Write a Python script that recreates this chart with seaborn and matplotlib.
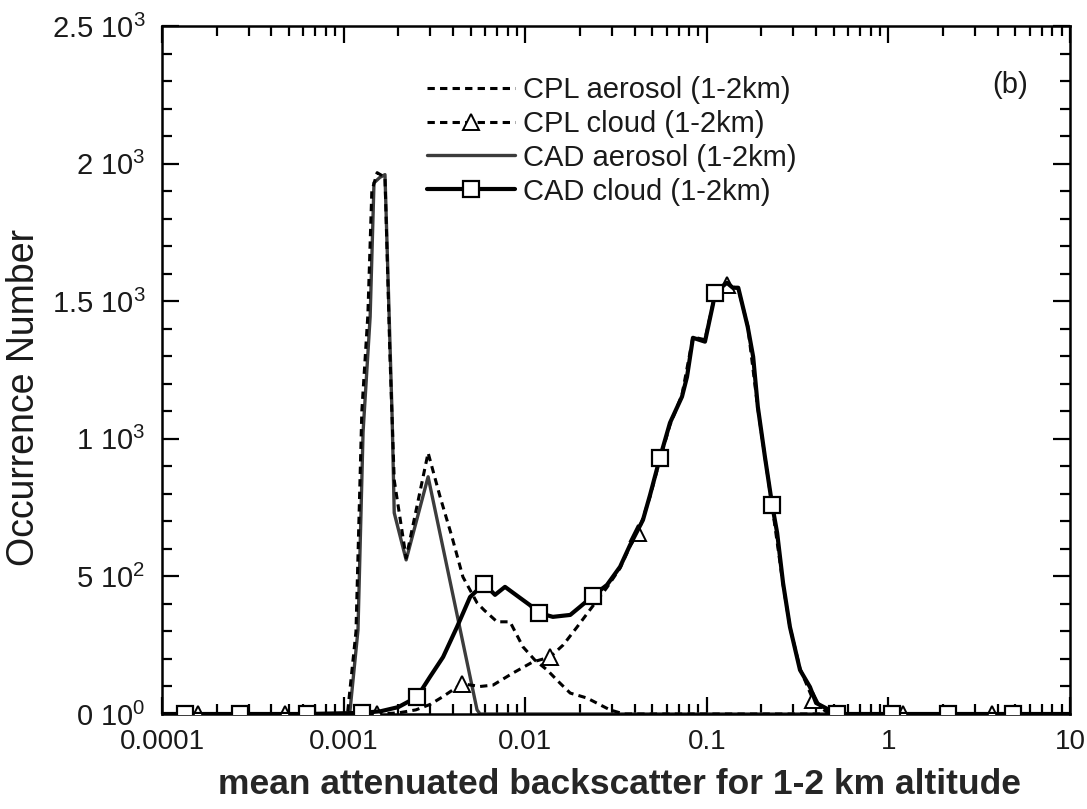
import matplotlib
matplotlib.use("Agg")
import matplotlib.pyplot as plt
import seaborn as sns
import numpy as np
from matplotlib.ticker import FixedLocator, FixedFormatter, LogLocator, NullFormatter, MultipleLocator

# ---- data: occurrence histograms of mean attenuated backscatter (1-2 km) ----
cpl_aer_x = [1.0e-4, 1.05e-3, 1.17e-3, 1.26e-3, 1.36e-3, 1.43e-3, 1.53e-3, 1.69e-3,
             1.80e-3, 1.90e-3, 2.21e-3, 2.92e-3, 3.40e-3, 3.95e-3, 4.54e-3, 5.43e-3,
             5.93e-3, 7.0e-3, 8.25e-3, 9.72e-3, 1.13e-2, 1.32e-2, 1.55e-2, 1.77e-2,
             2.19e-2, 2.93e-2, 3.5e-2, 10.0]
cpl_aer_y = [0, 0, 300, 1100, 1450, 1900, 1967, 1950,
             1300, 850, 567, 949, 789, 644, 498, 404,
             378, 335, 335, 244, 196, 160, 113, 76,
             58, 15, 0, 0]

cpl_cld_x = [1.0e-4, 1.58e-4, 4.76e-4, 1.0e-3, 1.53e-3, 2.0e-3, 2.5e-3, 3.0e-3, 3.5e-3,
             4.49e-3, 5.64e-3, 6.65e-3, 8.57e-3, 1.10e-2, 1.37e-2, 1.62e-2, 1.93e-2,
             2.27e-2, 2.82e-2, 3.33e-2, 3.78e-2, 4.18e-2, 4.87e-2, 5.52e-2, 6.27e-2,
             7.3e-2, 8.39e-2, 9.77e-2, 0.108, 0.129, 0.149, 0.168, 0.191, 0.229,
             0.263, 0.287, 0.326, 0.385, 0.45, 0.521, 1.20, 3.72, 10.0]
cpl_cld_y = [0, 0, 0, 0, 0, 4, 15, 35, 62,
             110, 100, 105, 149, 189, 207, 251, 316,
             378, 460, 530, 610, 658, 790, 925, 1050,
             1160, 1370, 1360, 1490, 1560, 1545, 1410, 1110, 755,
             470, 316, 165, 51, 10, 0, 0, 0, 0]
cpl_cld_marked = [1.58e-4, 4.76e-4, 1.53e-3, 4.49e-3, 1.37e-2, 4.18e-2, 0.129, 0.385, 1.20, 3.72]

cad_aer_x = [1.0e-4, 1.08e-3, 1.20e-3, 1.28e-3, 1.40e-3, 1.47e-3, 1.585e-3, 1.69e-3,
             1.76e-3, 1.85e-3, 1.90e-3, 2.21e-3, 2.92e-3, 5.43e-3, 5.64e-3, 10.0]
cad_aer_y = [0, 0, 305, 1025, 1443, 1930, 1950, 1960,
             1567, 1080, 731, 560, 862, 15, 0, 0]

cad_cld_x = [1.0e-4, 1.34e-4, 2.69e-4, 6.29e-4, 1.26e-3, 1.6e-3, 2.0e-3, 2.54e-3, 2.99e-3,
             3.53e-3, 4.21e-3, 4.97e-3, 5.93e-3, 6.82e-3, 7.74e-3, 9.36e-3, 1.06e-2,
             1.19e-2, 1.42e-2, 1.77e-2, 2.0e-2, 2.36e-2, 2.82e-2, 3.33e-2, 3.78e-2,
             4.45e-2, 4.87e-2, 5.52e-2, 6.27e-2, 7.3e-2, 7.78e-2, 8.39e-2, 9.77e-2,
             0.108, 0.111, 0.129, 0.139, 0.149, 0.168, 0.180, 0.191, 0.209, 0.229,
             0.244, 0.263, 0.287, 0.326, 0.370, 0.40, 0.521, 1.05, 2.13, 4.85, 10.0]
cad_cld_y = [0, 0, 0, 0, 4, 10, 25, 62, 135,
             207, 316, 425, 473, 433, 462, 422, 396,
             367, 353, 360, 389, 429, 469, 535, 614,
             705, 796, 931, 1058, 1153, 1225, 1367, 1353,
             1487, 1531, 1567, 1549, 1549, 1407, 1298, 1116, 934, 760,
             658, 476, 316, 160, 98, 40, 0, 0, 0, 0, 0]
cad_cld_marked = [1.34e-4, 2.69e-4, 6.29e-4, 1.26e-3, 2.54e-3, 5.93e-3, 1.19e-2, 2.36e-2,
                  5.52e-2, 0.111, 0.229, 0.521, 1.05, 2.13, 4.85]

series_labels = ["CPL aerosol (1-2km)", "CPL cloud (1-2km)",
                 "CAD aerosol (1-2km)", "CAD cloud (1-2km)"]

x_ticks = [1e-4, 1e-3, 1e-2, 1e-1, 1, 10]
x_tick_labels = ["0.0001", "0.001", "0.01", "0.1", "1", "10"]
y_ticks = [0, 500, 1000, 1500, 2000, 2500]
y_tick_labels = [r"0 $10^{0}$", r"5 $10^{2}$", r"1 $10^{3}$",
                 r"1.5 $10^{3}$", r"2 $10^{3}$", r"2.5 $10^{3}$"]

# ---- style ----
sns.set_style("ticks")
plt.rcParams["font.family"] = ["Liberation Sans", "DejaVu Sans"]
plt.rcParams["mathtext.fontset"] = "custom"
plt.rcParams["mathtext.rm"] = "Liberation Sans"
plt.rcParams["mathtext.it"] = "Liberation Sans"

fig = plt.figure(figsize=(10.87, 8.09), dpi=100)
ax = fig.add_axes([162 / 1087, 1 - 714 / 809, (1070 - 162) / 1087, (714 - 26) / 809])


def idx_of(xs, marked):
    return [i for i, v in enumerate(xs) if v in marked]


dash = (0, (2.4, 1.7))

sns.lineplot(x=cpl_aer_x, y=cpl_aer_y, ax=ax, color="black", lw=2.2,
             linestyle=dash, sort=False, label=series_labels[0], zorder=3)
sns.lineplot(x=cpl_cld_x, y=cpl_cld_y, ax=ax, color="black", lw=2.2,
             linestyle=dash, sort=False, label=series_labels[1], zorder=3,
             marker="^", markersize=11, markerfacecolor="white",
             markeredgecolor="black", markeredgewidth=1.4,
             markevery=idx_of(cpl_cld_x, cpl_cld_marked))
sns.lineplot(x=cad_aer_x, y=cad_aer_y, ax=ax, color="#3c3c3c", lw=2.4,
             sort=False, label=series_labels[2], zorder=2)
sns.lineplot(x=cad_cld_x, y=cad_cld_y, ax=ax, color="black", lw=3.0,
             sort=False, label=series_labels[3], zorder=4,
             marker="s", markersize=12, markerfacecolor="white",
             markeredgecolor="black", markeredgewidth=1.6,
             markevery=idx_of(cad_cld_x, cad_cld_marked))

ax.set_xscale("log")
ax.set_xlim(1e-4, 10)
ax.set_ylim(0, 2500)

ax.xaxis.set_major_locator(FixedLocator(x_ticks))
ax.xaxis.set_major_formatter(FixedFormatter(x_tick_labels))
ax.xaxis.set_minor_locator(LogLocator(base=10, subs=np.arange(2, 10), numticks=20))
ax.xaxis.set_minor_formatter(NullFormatter())
ax.yaxis.set_major_locator(FixedLocator(y_ticks))
ax.yaxis.set_major_formatter(FixedFormatter(y_tick_labels))
ax.yaxis.set_minor_locator(MultipleLocator(100))

ax.tick_params(which="both", direction="in", top=True, right=True,
               colors="black", width=1.6)
ax.tick_params(which="major", length=12, labelcolor="#1a1a1a")
ax.tick_params(which="minor", length=7)
ax.tick_params(axis="x", which="major", pad=11, labelsize=20)
ax.tick_params(axis="y", which="major", pad=12, labelsize=21)

for sp in ax.spines.values():
    sp.set_linewidth(1.8)
    sp.set_color("black")
    sp.set_visible(True)

ax.set_xlabel("mean attenuated backscatter for 1-2 km altitude",
              fontsize=25.5, fontweight="bold")
ax.xaxis.set_label_coords((619 - 162) / (1070 - 162), -(784 - 714) / (714 - 26))
ax.xaxis.label.set_va("center")
ax.set_ylabel("Occurrence Number", fontsize=27, color="#1a1a1a")
ax.yaxis.set_label_coords(-(162 - 24) / (1070 - 162), (714 - 397) / (714 - 26))
ax.yaxis.label.set_va("center")

ax.text(1010 / 1087, 1 - 85 / 809, "(b)", transform=fig.transFigure,
        fontsize=21, ha="center", va="center", color="#1a1a1a")

leg = ax.legend(loc="upper left", bbox_to_anchor=(427 / 1087, 1 - 76 / 809),
                bbox_transform=fig.transFigure, frameon=False, fontsize=21,
                handlelength=3.0, handletextpad=0.3, labelspacing=0.2,
                borderpad=0, borderaxespad=0, numpoints=1)
for t in leg.get_texts():
    t.set_color("#1a1a1a")

fig.savefig("out.png", dpi=100)
